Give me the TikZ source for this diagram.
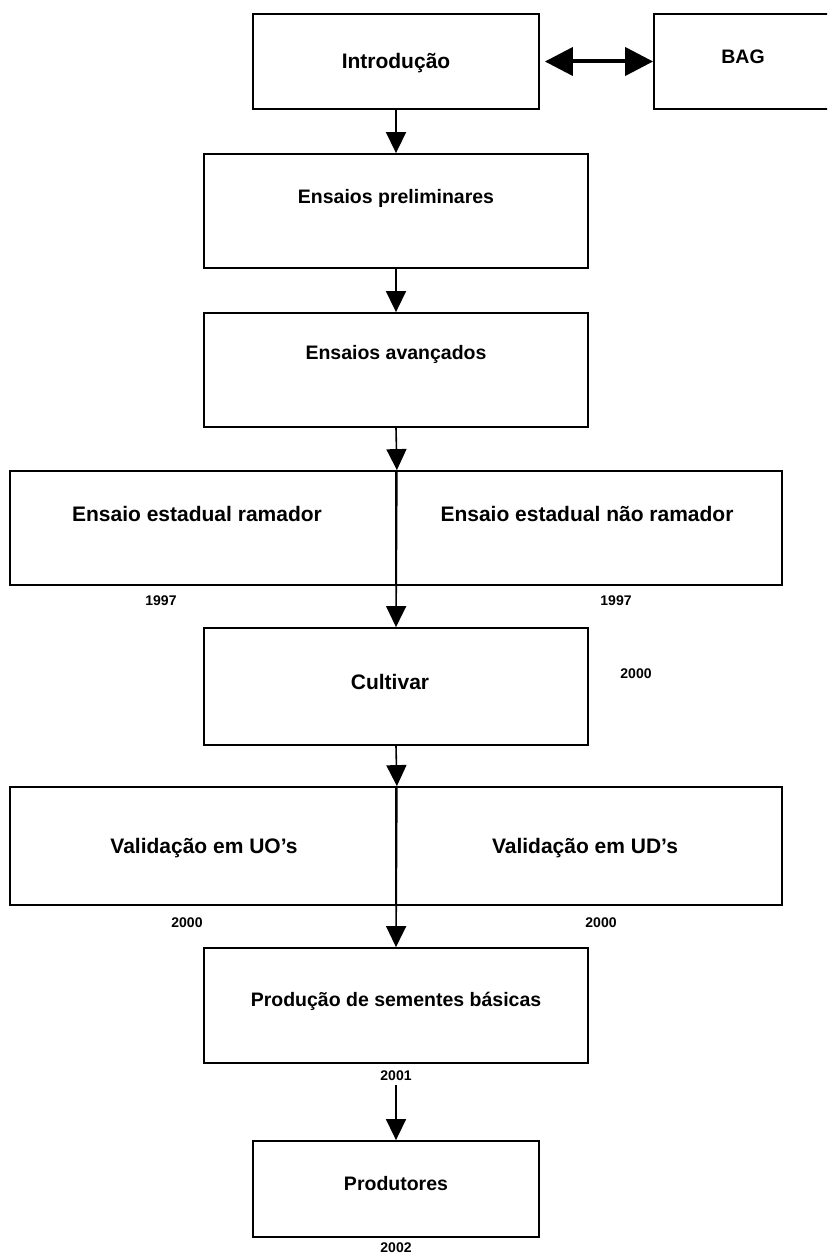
\documentclass[tikz,border=0pt]{standalone}
\usepackage{fontspec}
\setmainfont{Liberation Sans}
\usetikzlibrary{arrows.meta,calc}
\begin{document}
\begin{tikzpicture}[x=1pt,y=-1pt,
  box/.style={draw,line width=1.8pt,rectangle,inner sep=0pt},
  wide/.style={inner sep=0pt,text height=14pt,text depth=0pt,font=\fontsize{19.5}{22}\selectfont\bfseries},
  narrow/.style={inner sep=0pt,text height=15pt,text depth=0pt,font=\fontsize{21}{24}\selectfont\bfseries},
  year/.style={inner sep=0pt,text height=10pt,text depth=0pt,font=\fontsize{14}{16}\selectfont\bfseries},
  flow/.style={line width=1.6pt,-{Triangle[length=21pt,width=20pt]}},
  link/.style={line width=4pt,{Triangle[length=28pt,width=28pt]}-{Triangle[length=28pt,width=28pt]}}]

\useasboundingbox (0,0) rectangle (827,1255);
\clip (0,0) rectangle (827,1255);

% boxes
\node[box,minimum width=286pt,minimum height=95pt]  (intro)      at (396,61.5)  {};
\node[box,minimum width=186pt,minimum height=95pt]  (bag)        at (747,61.5)  {};
\node[box,minimum width=384pt,minimum height=114pt] (prelim)     at (396,211)   {};
\node[box,minimum width=384pt,minimum height=114pt] (avanc)      at (396,370)   {};
\node[box,minimum width=386pt,minimum height=114pt] (estL)       at (203,528)   {};
\node[box,minimum width=386pt,minimum height=114pt] (estR)       at (589,528)   {};
\node[box,minimum width=384pt,minimum height=117pt] (cultivar)   at (396,686.5) {};
\node[box,minimum width=386pt,minimum height=118pt] (valL)       at (203,846)   {};
\node[box,minimum width=386pt,minimum height=118pt] (valR)       at (589,846)   {};
\node[box,minimum width=384pt,minimum height=115pt] (producao)   at (396,1005.5){};
\node[box,minimum width=286pt,minimum height=96pt]  (produtores) at (396,1189)  {};

% box texts
\node[narrow] (introT)  at (396,61)  {Introdução};
\node[wide]   (bagT)    at (743,56.5) {BAG};
\node[wide]   (prelimT) at (396,196.5) {Ensaios preliminares};
\node[wide]   (avancT)  at (396,352.5) {Ensaios avançados};
\node[narrow] (estLT)   at (197,513.5) {Ensaio estadual ramador};
\node[narrow] (estRT)   at (587,513.5) {Ensaio estadual não ramador};
\node[narrow] (cultT)   at (390,681.5) {Cultivar};
\node[narrow] (valLT)   at (204,845.5) {Validação em UO’s};
\node[narrow] (valRT)   at (585,845.5) {Validação em UD’s};
\node[wide]   (prodT)   at (396,999)   {Produção de sementes básicas};
\node[wide]   (produtT) at (396,1183.5){Produtores};

% years
\node[year] (y1997a) at (161,600)  {1997};
\node[year] (y1997b) at (616,600)  {1997};
\node[year] (y2000c) at (636,673.5){2000};
\node[year] (y2000a) at (187,922)  {2000};
\node[year] (y2000b) at (601,922)  {2000};
\node[year] (y2001)  at (396,1075) {2001};
\node[year] (y2002)  at (396,1247) {2002};

% connectors
\draw[link,shorten <=5pt] (intro.east) -- (bag.west);
\draw[flow] (intro.south) -- (prelim.north);
\draw[flow] (prelim.south) -- (avanc.north);
\draw[flow] (avanc.south) -- (estL.north east);
\draw[flow] (estL.north east) -- (cultivar.north);
\draw[flow] (cultivar.south) -- (valL.north east);
\draw[flow] (valL.north east) -- (producao.north);
\draw[flow,shorten <=5pt] (y2001.south) -- (produtores.north);
\end{tikzpicture}
\end{document}
